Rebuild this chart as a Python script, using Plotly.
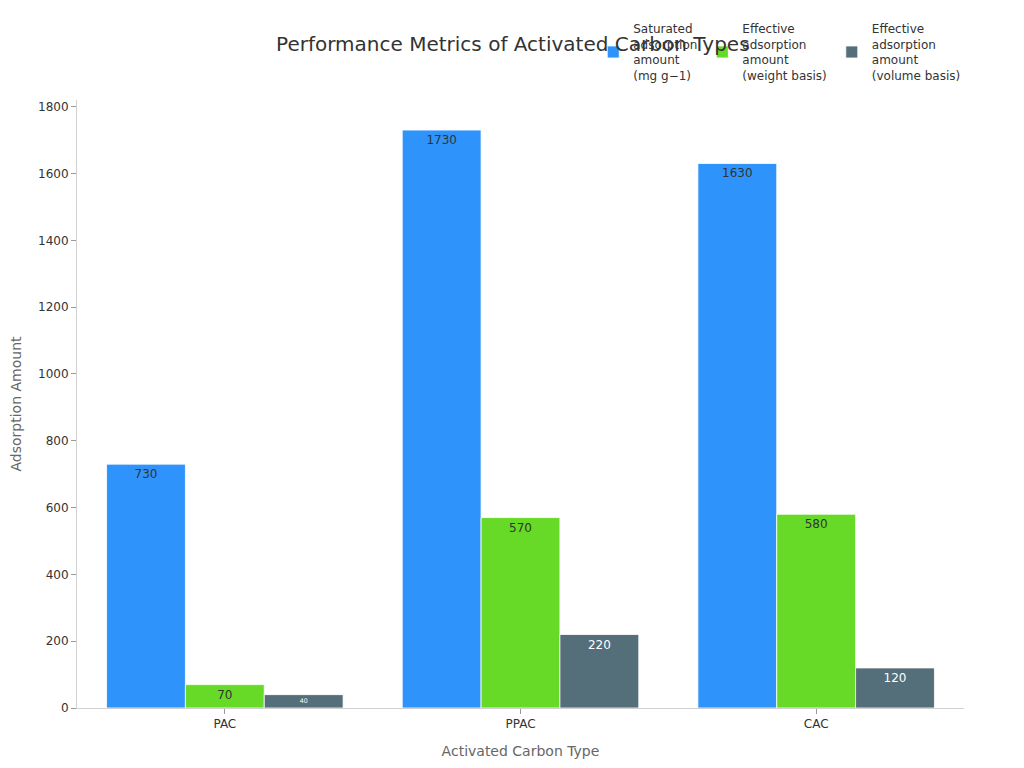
import plotly.graph_objects as go

categories = ["PAC", "PPAC", "CAC"]
series_names = [
    "Saturated<br>adsorption<br>amount<br>(mg g\u22121)",
    "Effective<br>adsorption<br>amount<br>(weight basis)",
    "Effective<br>adsorption<br>amount<br>(volume basis)",
]
saturated = [730, 1730, 1630]
effective_weight = [70, 570, 580]
effective_volume = [40, 220, 120]
colors = ["#2E93FA", "#66DA26", "#546E7A"]
text_colors = ["#333333", "#333333", "#FFFFFF"]

fig = go.Figure()
for name, vals, c, tc in zip(series_names, [saturated, effective_weight, effective_volume], colors, text_colors):
    fig.add_trace(go.Bar(
        x=categories, y=vals, name=name,
        marker=dict(color=c, line=dict(color="rgba(255,255,255,0.8)", width=1)),
        text=[str(v) for v in vals], textposition="inside", insidetextanchor="end",
        textfont=dict(color=tc, size=12), textangle=0,
    ))

fig.update_layout(
    width=1024, height=768,
    paper_bgcolor="white", plot_bgcolor="white",
    font=dict(family="DejaVu Sans, sans-serif", color="#333333"),
    title=dict(text="Performance Metrics of Activated Carbon Types", x=0.493, xanchor="center",
               y=0.953, yanchor="middle", font=dict(size=20, color="#333333")),
    barmode="group", bargap=0.2, bargroupgap=0,
    margin=dict(l=69, r=68, t=92, b=68, autoexpand=False),
    showlegend=True,
    legend=dict(orientation="h", x=0.582, xanchor="left", y=1.141, yanchor="top",
                font=dict(size=12, color="#333333"), bgcolor="rgba(0,0,0,0)",
                itemwidth=30, traceorder="normal"),
)
fig.update_xaxes(title=dict(text="Activated Carbon Type", font=dict(size=14, color="#666666")),
                 showline=True, linecolor="#d0d0d0", ticks="outside", ticklen=5, tickcolor="#999999",
                 tickfont=dict(size=12, color="#333333"), showgrid=False, automargin=False)
fig.update_yaxes(title=dict(text="Adsorption Amount", font=dict(size=14, color="#666666")),
                 range=[0, 1820], dtick=200, showline=True, linecolor="#d0d0d0",
                 ticks="outside", ticklen=5, tickcolor="#999999", showgrid=False, zeroline=False,
                 tickfont=dict(size=12, color="#333333"), automargin=False)

fig.write_html("out.html")
